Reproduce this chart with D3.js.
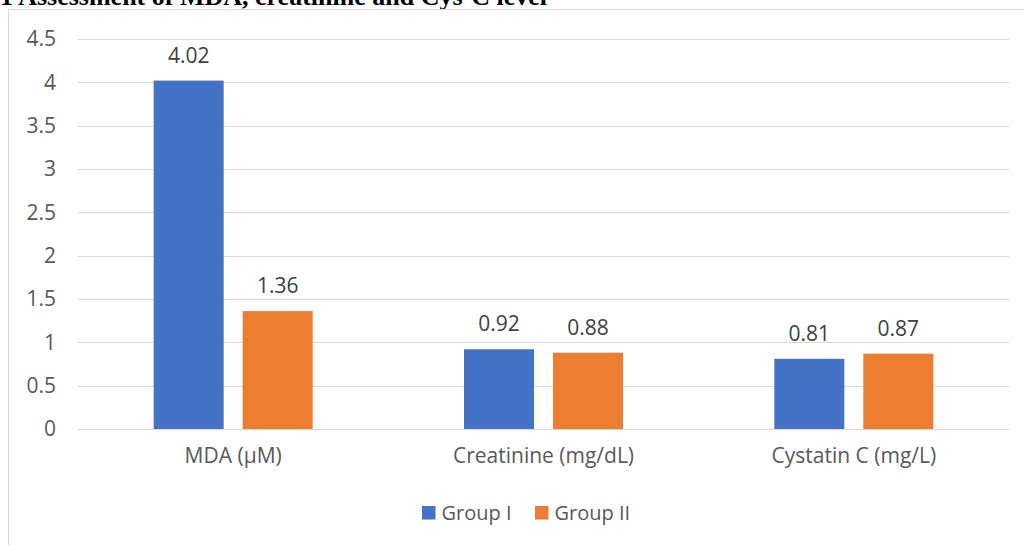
<!DOCTYPE html>
<html>
<head>
<meta charset="utf-8">
<script src="https://cdn.jsdelivr.net/npm/d3@7"></script>
<style>
  html, body { margin: 0; padding: 0; background: #fff; }
  svg { display: block; }
</style>
</head>
<body>
<svg id="chart" width="1024" height="545"></svg>
<script>
// Mean marker levels per group
const categories = ["MDA (\u03bcM)", "Creatinine (mg/dL)", "Cystatin C (mg/L)"];
const groups = ["Group I", "Group II"];
const groupI = [4.02, 0.92, 0.81];
const groupII = [1.36, 0.88, 0.87];
const yTicks = [0, 0.5, 1, 1.5, 2, 2.5, 3, 3.5, 4, 4.5];
const colors = ["#4472C4", "#ED7D31"];
const titleText = "1 Assessment of MDA, creatinine and Cys-C level";

const seriesValues = [groupI, groupII];
const rows = categories.map((c, i) => ({
  category: c,
  values: groups.map((g, j) => ({ group: g, value: seriesValues[j][i], color: colors[j] }))
}));

const svg = d3.select("#chart");
const font = "'Open Sans', 'Noto Sans', sans-serif";

const plot = { left: 78, right: 1009, top: 39, bottom: 429 };

// Title, partly running off the top/left of the frame
svg.append("text")
  .attr("x", 547).attr("y", 5)
  .attr("text-anchor", "end")
  .attr("font-family", "'Liberation Serif', 'Times New Roman', serif")
  .attr("font-weight", "bold")
  .attr("font-size", 26)
  .attr("fill", "#000")
  .text(titleText);

// Chart frame
svg.append("path")
  .attr("d", "M8.5,545 V9.5 H1024")
  .attr("fill", "none")
  .attr("stroke", "#d9d9d9")
  .attr("stroke-width", 1);

const y = d3.scaleLinear().domain([0, 4.5]).range([plot.bottom, plot.top]);
const x0 = d3.scaleBand().domain(categories).range([plot.left, plot.right]).padding(0);
const x1 = d3.scaleBand().domain(groups).range([-79.5, 79.5]).paddingInner(0.2135).paddingOuter(0);

// Gridlines
svg.append("g")
  .selectAll("line")
  .data(yTicks)
  .join("line")
  .attr("x1", plot.left).attr("x2", plot.right)
  .attr("y1", d => Math.round(y(d)) + 0.5)
  .attr("y2", d => Math.round(y(d)) + 0.5)
  .attr("stroke", "#d9d9d9")
  .attr("stroke-width", 1);

// Y axis labels
const yAxis = d3.axisLeft(y).tickValues(yTicks).tickSize(0).tickPadding(0).tickFormat(d3.format("~g"));
svg.append("g")
  .attr("transform", `translate(${plot.left - 22},0)`)
  .call(yAxis)
  .call(g => g.select(".domain").remove())
  .call(g => g.selectAll("text")
    .attr("font-family", font)
    .attr("font-size", 21)
    .attr("fill", "#595959"));

// Category labels
const xAxis = d3.axisBottom(x0).tickSize(0).tickPadding(0);
svg.append("g")
  .attr("transform", `translate(0,${plot.bottom + 19})`)
  .call(xAxis)
  .call(g => g.select(".domain").remove())
  .call(g => g.selectAll("text")
    .attr("font-family", font)
    .attr("font-size", 21)
    .attr("fill", "#595959"));

// Bars
const cat = svg.append("g")
  .selectAll("g")
  .data(rows)
  .join("g")
  .attr("transform", d => `translate(${x0(d.category) + x0.bandwidth() / 2},0)`);

cat.selectAll("rect")
  .data(d => d.values)
  .join("rect")
  .attr("x", d => x1(d.group))
  .attr("width", x1.bandwidth())
  .attr("y", d => y(d.value))
  .attr("height", d => y(0) - y(d.value))
  .attr("fill", d => d.color);

// Value labels
cat.selectAll("text")
  .data(d => d.values)
  .join("text")
  .attr("x", d => x1(d.group) + x1.bandwidth() / 2)
  .attr("y", d => y(d.value) - 18)
  .attr("text-anchor", "middle")
  .attr("font-family", font)
  .attr("font-size", 21)
  .attr("fill", "#404040")
  .text(d => d3.format(".2f")(d.value));

// Legend
const legendX = [422, 535];
const legend = svg.append("g")
  .selectAll("g")
  .data(groups)
  .join("g")
  .attr("transform", (d, i) => `translate(${legendX[i]},506)`);
legend.append("rect")
  .attr("width", 13.5).attr("height", 13.5)
  .attr("fill", (d, i) => colors[i]);
legend.append("text")
  .attr("x", 19.5).attr("y", 13.5)
  .attr("font-family", font)
  .attr("font-size", 20)
  .attr("fill", "#595959")
  .text(d => d);
</script>
</body>
</html>
